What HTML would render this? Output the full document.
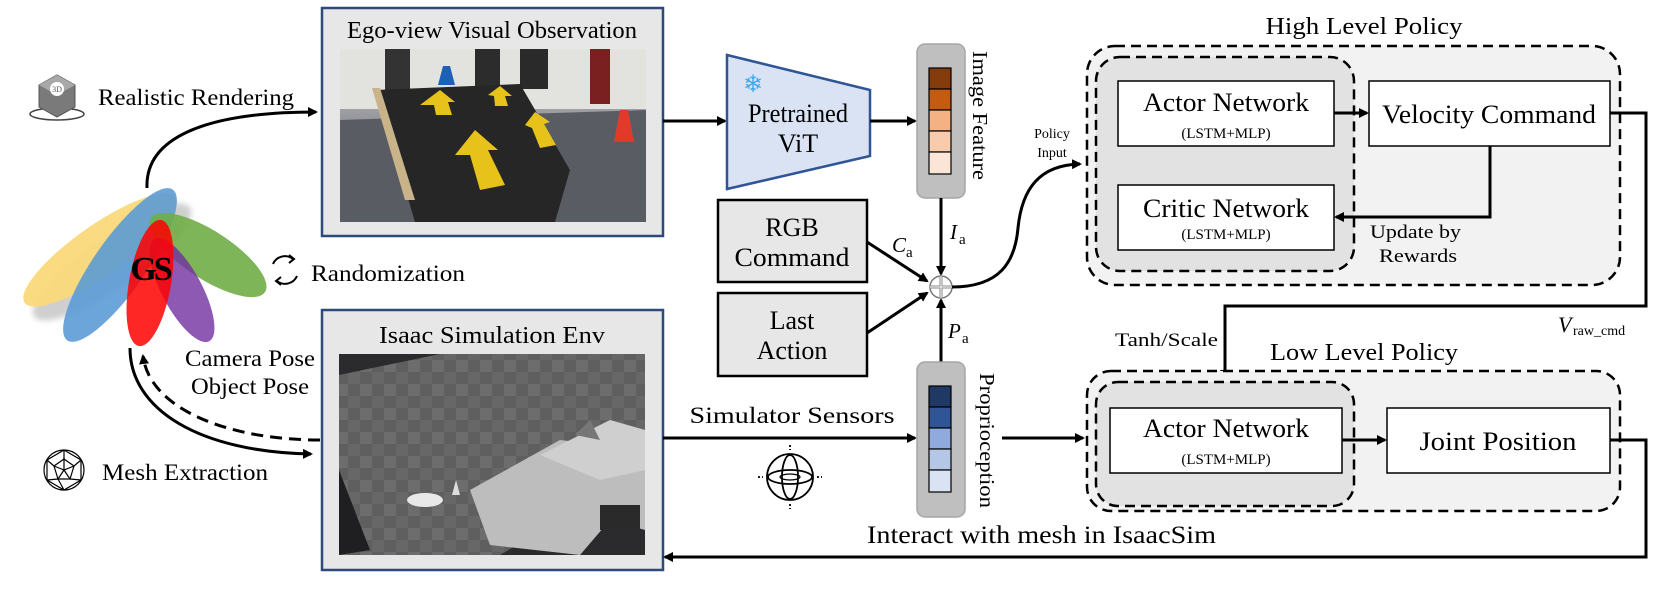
<!DOCTYPE html>
<html><head><meta charset="utf-8"><style>
html,body{margin:0;padding:0;background:#fff;}
svg{display:block;}
svg text{font-family:"Liberation Serif",serif;}
</style></head><body>
<svg width="1660" height="596" viewBox="0 0 1660 596" xmlns="http://www.w3.org/2000/svg" font-family="Liberation Serif, serif">
<defs>
<marker id="ah" markerWidth="10" markerHeight="10" refX="8" refY="5" orient="auto" markerUnits="userSpaceOnUse">
<path d="M0,0 L10,5 L0,10 z" fill="#000"/></marker>
<linearGradient id="egoSky" x1="0" y1="0" x2="0" y2="1">
<stop offset="0" stop-color="#d8d8d4"/><stop offset="0.45" stop-color="#8e9096"/><stop offset="1" stop-color="#4d5058"/></linearGradient>
<pattern id="chk" width="24" height="24" patternUnits="userSpaceOnUse">
<rect width="24" height="24" fill="#5f5f5f"/><rect width="12" height="12" fill="#6d6d6d"/><rect x="12" y="12" width="12" height="12" fill="#676767"/></pattern>
<filter id="blur"><feGaussianBlur stdDeviation="3"/></filter>
</defs>

<!-- Ego-view box -->
<rect x="322" y="8" width="341" height="228" fill="#e7e7e7" stroke="#2f4a7a" stroke-width="2.5"/>
<text x="492" y="38" font-size="24" text-anchor="middle" textLength="290" lengthAdjust="spacingAndGlyphs">Ego-view Visual Observation</text>
<rect x="340" y="49" width="306" height="173" fill="url(#egoSky)"/>
<rect x="340" y="49" width="306" height="60" fill="#e2e2de"/>
<rect x="385" y="49" width="25" height="45" fill="#333"/><rect x="475" y="49" width="25" height="40" fill="#2c2c2c"/><rect x="520" y="49" width="28" height="40" fill="#2a2a2a"/><rect x="590" y="49" width="20" height="55" fill="#7a2020"/>
<path d="M340,120 L646,110 L646,222 L340,222 z" fill="#5a5c64"/>
<polygon points="443,66 450,66 455,85 438,85" fill="#1e5fb8"/>
<polygon points="620,110 628,110 634,142 614,142" fill="#e23a2a"/>
<polygon points="376,90 520,84 570,170 555,222 415,222" fill="#262626"/>
<polygon points="372,88 380,88 415,200 405,200" fill="#c9b48a"/>
<polygon points="420,105 440,90 455,102 448,102 452,115 436,115 434,105" fill="#e6c21a"/>
<polygon points="488,95 500,86 512,96 505,96 508,106 495,106 494,96" fill="#e6c21a"/>
<polygon points="455,155 475,130 498,150 488,150 505,185 480,190 470,155" fill="#e6c21a"/>
<polygon points="525,125 535,112 550,122 544,124 556,145 540,148 532,128" fill="#e6c21a"/>

<!-- Isaac box -->
<rect x="322" y="310" width="341" height="260" fill="#e7e7e7" stroke="#2f4a7a" stroke-width="2.5"/>
<text x="492" y="343" font-size="24" text-anchor="middle" textLength="226" lengthAdjust="spacingAndGlyphs">Isaac Simulation Env</text>
<rect x="339" y="354" width="306" height="201" fill="#2b2b2e"/>
<polygon points="339,375 440,354 645,354 645,470 500,555 339,555 339,500" fill="url(#chk)"/>
<polygon points="470,490 560,440 645,450 645,530 610,520 580,555 490,545" fill="#bdbdbd"/>
<polygon points="540,455 610,420 645,430 645,470 600,480" fill="#cfcfcf"/>
<polygon points="575,435 590,420 600,440" fill="#777"/>
<rect x="600" y="505" width="40" height="25" fill="#2a2a2a"/>
<polygon points="370,550 339,555 339,470" fill="#1f1f22"/>
<polygon points="452,495 456,480 460,495" fill="#ddd"/>
<ellipse cx="425" cy="500" rx="18" ry="7" fill="#e8e8e8"/>

<!-- 3D icon -->
<g transform="translate(57,97)">
<ellipse cx="0" cy="17" rx="27" ry="6" fill="none" stroke="#444" stroke-width="1.5"/>
<polygon points="-18,-12 0,-22 18,-12 18,10 0,20 -18,10" fill="#7a7a7a" stroke="#555"/>
<polygon points="-18,-12 0,-22 18,-12 0,-2" fill="#a9a9a9"/>
<circle cx="0" cy="-8" r="7" fill="#fff"/><text x="0" y="-5" font-size="8" text-anchor="middle" fill="#555">3D</text>
</g>
<text x="98" y="105" font-size="23" textLength="196" lengthAdjust="spacingAndGlyphs">Realistic Rendering</text>
<path d="M147,188 C145,140 200,112 316,112" fill="none" stroke="#000" stroke-width="3" marker-end="url(#ah)"/>

<!-- GS blob -->
<g filter="url(#blur)" opacity="0.35">
<ellipse cx="112" cy="262" rx="95" ry="26" transform="rotate(-35 112 262)" fill="#777"/>
</g>
<ellipse cx="100" cy="250" rx="92" ry="25" transform="rotate(-35 100 250)" fill="#fad97a" opacity="0.95"/>
<ellipse cx="120" cy="265" rx="92" ry="26" transform="rotate(-55 120 265)" fill="#5b9bd5" opacity="0.9"/>
<ellipse cx="208" cy="255" rx="68" ry="24" transform="rotate(33 208 255)" fill="#70ad47" opacity="0.9"/>
<ellipse cx="182" cy="290" rx="58" ry="20" transform="rotate(62 182 290)" fill="#7030a0" opacity="0.8"/>
<ellipse cx="150" cy="283" rx="64" ry="21" transform="rotate(-80 150 283)" fill="#ff0000" opacity="0.85"/>
<text x="150" y="280" font-size="34" font-weight="bold" text-anchor="middle" letter-spacing="-3">GS</text>

<!-- Randomization -->
<g transform="translate(285,270)" fill="none" stroke="#000" stroke-width="2">
<path d="M-12,-6 A13,13 0 0 1 8,-11"/><path d="M4,-15 L9,-11 L4,-7"/>
<path d="M12,6 A13,13 0 0 1 -8,11"/><path d="M-4,15 L-9,11 L-4,7"/>
</g>
<text x="311" y="281" font-size="23" textLength="154" lengthAdjust="spacingAndGlyphs">Randomization</text>
<text x="250" y="366" font-size="23" text-anchor="middle" textLength="130" lengthAdjust="spacingAndGlyphs">Camera Pose</text>
<text x="250" y="394" font-size="23" text-anchor="middle" textLength="118" lengthAdjust="spacingAndGlyphs">Object Pose</text>

<!-- Mesh icon -->
<g transform="translate(64,470)" fill="none" stroke="#000" stroke-width="1.2">
<circle r="20"/><polygon points="0,-20 17,-10 17,10 0,20 -17,10 -17,-10"/>
<polygon points="0,-11 10,-4 6,9 -6,9 -10,-4"/>
<path d="M0,-20 L0,-11 M17,-10 L10,-4 M17,10 L6,9 M0,20 L-6,9 M-17,10 L-6,9 M-17,-10 L-10,-4 M0,-11 L0,0 L10,-4 M0,0 L6,9 M0,0 L-6,9 M0,0 L-10,-4"/>
</g>
<text x="102" y="480" font-size="23" textLength="166" lengthAdjust="spacingAndGlyphs">Mesh Extraction</text>
<path d="M130,348 C130,410 200,452 311,454" fill="none" stroke="#000" stroke-width="3" marker-end="url(#ah)"/>
<path d="M320,440 C230,440 150,410 143,356" fill="none" stroke="#000" stroke-width="3" stroke-dasharray="12,7" marker-end="url(#ah)"/>

<!-- ViT -->
<path d="M663,121 L725,121" stroke="#000" stroke-width="3" marker-end="url(#ah)"/>
<polygon points="727,55 870,90 870,156 727,189" fill="#dae3f3" stroke="#2f5597" stroke-width="2.5"/>
<text x="753" y="92" font-size="24" text-anchor="middle" fill="#3ea8f0">❄</text>
<text x="798" y="122" font-size="26" text-anchor="middle" textLength="100" lengthAdjust="spacingAndGlyphs">Pretrained</text>
<text x="798" y="152" font-size="26" text-anchor="middle">ViT</text>
<path d="M870,121 L915,121" stroke="#000" stroke-width="3" marker-end="url(#ah)"/>

<!-- Image feature bar -->
<rect x="917" y="44" width="48" height="154" rx="8" fill="#bfbfbf" stroke="#a6a6a6" stroke-width="1.5"/>
<rect x="929" y="68" width="22" height="21" fill="#843c0c" stroke="#000" stroke-width="1.2"/>
<rect x="929" y="89" width="22" height="21" fill="#c55a11" stroke="#000" stroke-width="1.2"/>
<rect x="929" y="110" width="22" height="21" fill="#f4b183" stroke="#000" stroke-width="1.2"/>
<rect x="929" y="131" width="22" height="21" fill="#f8cbad" stroke="#000" stroke-width="1.2"/>
<rect x="929" y="152" width="22" height="22" fill="#fbe5d6" stroke="#000" stroke-width="1.2"/>
<text transform="translate(973,51) rotate(90)" font-size="21" textLength="129" lengthAdjust="spacingAndGlyphs">Image Feature</text>

<!-- RGB / Last action -->
<rect x="718" y="200" width="149" height="82" fill="#e7e7e7" stroke="#000" stroke-width="2.5"/>
<text x="792" y="236" font-size="26" text-anchor="middle">RGB</text>
<text x="792" y="266" font-size="26" text-anchor="middle" textLength="115" lengthAdjust="spacingAndGlyphs">Command</text>
<rect x="718" y="293" width="149" height="83" fill="#e7e7e7" stroke="#000" stroke-width="2.5"/>
<text x="792" y="329" font-size="26" text-anchor="middle">Last</text>
<text x="792" y="359" font-size="26" text-anchor="middle">Action</text>
<path d="M867,242 L927,281" stroke="#000" stroke-width="3" marker-end="url(#ah)"/>
<path d="M867,333 L927,293" stroke="#000" stroke-width="3" marker-end="url(#ah)"/>
<text x="892" y="252" font-size="21" font-style="italic">C</text><text x="906" y="257" font-size="15">a</text>
<path d="M941,198 L941,274" stroke="#000" stroke-width="3" marker-end="url(#ah)"/>
<text x="950" y="239" font-size="21" font-style="italic">I</text><text x="959" y="244" font-size="15">a</text>
<path d="M941,362 L941,300" stroke="#000" stroke-width="3" marker-end="url(#ah)"/>
<text x="948" y="338" font-size="21" font-style="italic">P</text><text x="962" y="343" font-size="15">a</text>
<circle cx="941" cy="287" r="11" fill="#fff" stroke="#777" stroke-width="1.5"/>
<path d="M930,287 L952,287 M941,276 L941,298" stroke="#888" stroke-width="3"/>
<path d="M941,276 L941,298 M930,287 L952,287" stroke="#fff" stroke-width="1"/>
<path d="M952,287 C1000,287 1015,262 1018,228 C1022,188 1040,165 1080,164" fill="none" stroke="#000" stroke-width="3" marker-end="url(#ah)"/>
<text x="1052" y="138" font-size="14" text-anchor="middle">Policy</text>
<text x="1052" y="157" font-size="14" text-anchor="middle">Input</text>

<!-- Simulator sensors -->
<text x="792" y="423" font-size="23" text-anchor="middle" textLength="205" lengthAdjust="spacingAndGlyphs">Simulator Sensors</text>
<path d="M663,438 L915,438" stroke="#000" stroke-width="3" marker-end="url(#ah)"/>
<g transform="translate(790,477)" fill="none" stroke="#000" stroke-width="1.8">
<circle r="23"/><ellipse rx="8" ry="22"/><ellipse rx="22" ry="7"/><ellipse rx="10" ry="3" stroke-width="1.2"/>
<path d="M0,-32 L0,-27 M0,27 L0,32 M-32,0 L-27,0 M27,0 L32,0" stroke-dasharray="2,2"/>
</g>

<!-- Proprioception bar -->
<rect x="917" y="362" width="48" height="155" rx="8" fill="#bfbfbf" stroke="#a6a6a6" stroke-width="1.5"/>
<rect x="929" y="386" width="22" height="21" fill="#203864" stroke="#000" stroke-width="1.2"/>
<rect x="929" y="407" width="22" height="21" fill="#2f5597" stroke="#000" stroke-width="1.2"/>
<rect x="929" y="428" width="22" height="21" fill="#8faadc" stroke="#000" stroke-width="1.2"/>
<rect x="929" y="449" width="22" height="21" fill="#b4c7e7" stroke="#000" stroke-width="1.2"/>
<rect x="929" y="470" width="22" height="22" fill="#dae3f3" stroke="#000" stroke-width="1.2"/>
<text transform="translate(980,373) rotate(90)" font-size="21" textLength="135" lengthAdjust="spacingAndGlyphs">Proprioception</text>
<path d="M1002,438 L1083,438" stroke="#000" stroke-width="3" marker-end="url(#ah)"/>

<!-- High level policy -->
<text x="1364" y="34" font-size="24" text-anchor="middle" textLength="197" lengthAdjust="spacingAndGlyphs">High Level Policy</text>
<rect x="1087" y="46" width="533" height="239" rx="28" fill="#f2f2f2" stroke="#000" stroke-width="2.5" stroke-dasharray="10,6"/>
<rect x="1096" y="57" width="258" height="214" rx="24" fill="#e2e2e2" stroke="#000" stroke-width="2.5" stroke-dasharray="10,6"/>
<rect x="1118" y="81" width="216" height="65" fill="#fff" stroke="#000" stroke-width="1.5"/>
<text x="1226" y="111" font-size="26" text-anchor="middle" textLength="166" lengthAdjust="spacingAndGlyphs">Actor Network</text>
<text x="1226" y="138" font-size="15" text-anchor="middle">(LSTM+MLP)</text>
<rect x="1118" y="185" width="216" height="65" fill="#fff" stroke="#000" stroke-width="1.5"/>
<text x="1226" y="217" font-size="26" text-anchor="middle" textLength="166" lengthAdjust="spacingAndGlyphs">Critic Network</text>
<text x="1226" y="239" font-size="15" text-anchor="middle">(LSTM+MLP)</text>
<rect x="1369" y="81" width="241" height="65" fill="#fff" stroke="#000" stroke-width="1.5"/>
<text x="1489" y="123" font-size="26" text-anchor="middle" textLength="214" lengthAdjust="spacingAndGlyphs">Velocity Command</text>
<path d="M1334,113 L1367,113" stroke="#000" stroke-width="3" marker-end="url(#ah)"/>
<path d="M1490,146 L1490,217 L1336,217" fill="none" stroke="#000" stroke-width="3" marker-end="url(#ah)"/>
<text x="1370" y="238" font-size="19" textLength="91" lengthAdjust="spacingAndGlyphs">Update by</text>
<text x="1379" y="262" font-size="19" textLength="78" lengthAdjust="spacingAndGlyphs">Rewards</text>
<path d="M1610,113 L1646,113 L1646,306 L1225,306 L1225,378" fill="none" stroke="#000" stroke-width="3" marker-end="url(#ah)"/>
<text x="1558" y="332" font-size="22" font-style="italic">V</text><text x="1573" y="335" font-size="14">raw_cmd</text>
<text x="1115" y="346" font-size="19" textLength="103" lengthAdjust="spacingAndGlyphs">Tanh/Scale</text>

<!-- Low level policy -->
<text x="1364" y="360" font-size="24" text-anchor="middle" textLength="188" lengthAdjust="spacingAndGlyphs">Low Level Policy</text>
<rect x="1087" y="371" width="533" height="140" rx="24" fill="#f2f2f2" stroke="#000" stroke-width="2.5" stroke-dasharray="10,6"/>
<rect x="1096" y="382" width="258" height="124" rx="22" fill="#e2e2e2" stroke="#000" stroke-width="2.5" stroke-dasharray="10,6"/>
<rect x="1110" y="408" width="232" height="65" fill="#fff" stroke="#000" stroke-width="1.5"/>
<text x="1226" y="437" font-size="26" text-anchor="middle" textLength="166" lengthAdjust="spacingAndGlyphs">Actor Network</text>
<text x="1226" y="464" font-size="15" text-anchor="middle">(LSTM+MLP)</text>
<rect x="1387" y="408" width="223" height="65" fill="#fff" stroke="#000" stroke-width="1.5"/>
<text x="1498" y="450" font-size="26" text-anchor="middle" textLength="157" lengthAdjust="spacingAndGlyphs">Joint Position</text>
<path d="M1342,440 L1385,440" stroke="#000" stroke-width="3" marker-end="url(#ah)"/>
<path d="M1610,440 L1646,440 L1646,557 L665,557" fill="none" stroke="#000" stroke-width="3" marker-end="url(#ah)"/>
<text x="867" y="543" font-size="25" textLength="349" lengthAdjust="spacingAndGlyphs">Interact with mesh in IsaacSim</text>
</svg>
</body></html>
